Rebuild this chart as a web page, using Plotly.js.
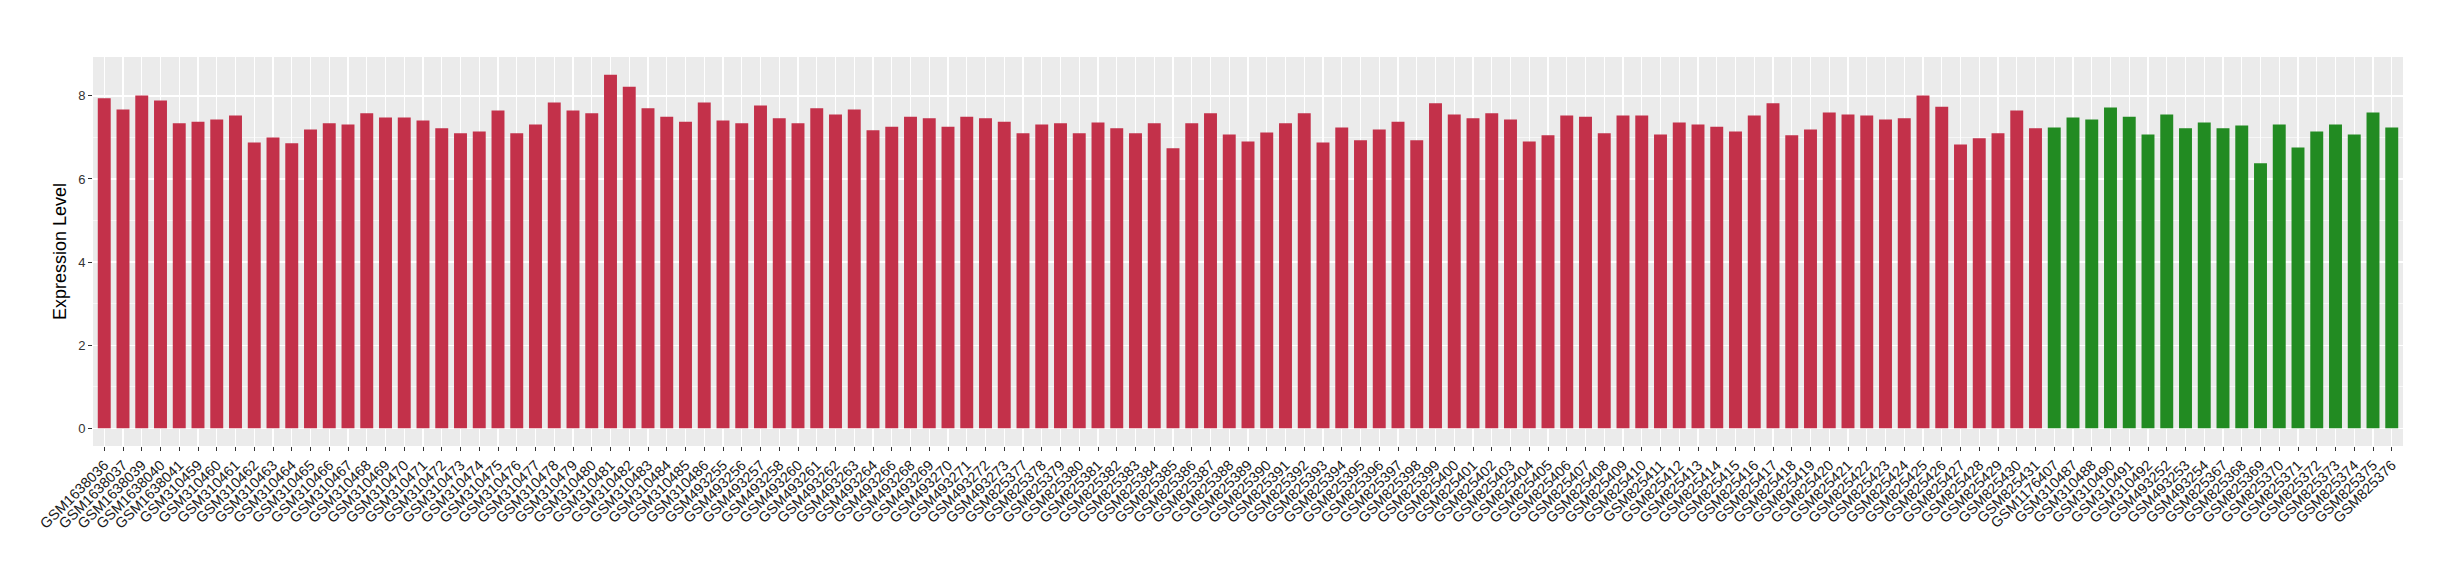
<!DOCTYPE html>
<html>
<head>
<meta charset="utf-8">
<script src="https://cdn.plot.ly/plotly-3.0.1.min.js"></script>
<style>html,body{margin:0;padding:0;background:#fff}#chart{width:2460px;height:580px}</style>
</head>
<body>
<div id="chart"></div>
<script>
// Group 1 (red) samples
var samplesRed = [
  "GSM1638036","GSM1638037","GSM1638039","GSM1638040","GSM1638041",
  "GSM310459","GSM310460","GSM310461","GSM310462","GSM310463","GSM310464","GSM310465",
  "GSM310466","GSM310467","GSM310468","GSM310469","GSM310470","GSM310471","GSM310472",
  "GSM310473","GSM310474","GSM310475","GSM310476","GSM310477","GSM310478","GSM310479",
  "GSM310480","GSM310481","GSM310482","GSM310483","GSM310484","GSM310485","GSM310486",
  "GSM493255","GSM493256","GSM493257","GSM493258","GSM493260","GSM493261","GSM493262",
  "GSM493263","GSM493264","GSM493266","GSM493268","GSM493269","GSM493270","GSM493271",
  "GSM493272","GSM493273",
  "GSM825377","GSM825378","GSM825379","GSM825380","GSM825381","GSM825382","GSM825383",
  "GSM825384","GSM825385","GSM825386","GSM825387","GSM825388","GSM825389","GSM825390",
  "GSM825391","GSM825392","GSM825393","GSM825394","GSM825395","GSM825396","GSM825397",
  "GSM825398","GSM825399","GSM825400","GSM825401","GSM825402","GSM825403","GSM825404",
  "GSM825405","GSM825406","GSM825407","GSM825408","GSM825409","GSM825410","GSM825411",
  "GSM825412","GSM825413","GSM825414","GSM825415","GSM825416","GSM825417","GSM825418",
  "GSM825419","GSM825420","GSM825421","GSM825422","GSM825423","GSM825424","GSM825425",
  "GSM825426","GSM825427","GSM825428","GSM825429","GSM825430","GSM825431"
];
var valuesRed = [
  7.94,7.67,8.01,7.89,7.34,
  7.38,7.43,7.53,6.88,7.00,6.86,7.19,
  7.34,7.31,7.58,7.48,7.48,7.41,7.22,
  7.10,7.14,7.65,7.10,7.31,7.84,7.65,
  7.58,8.51,8.22,7.70,7.50,7.38,7.84,
  7.41,7.34,7.77,7.46,7.34,7.70,7.55,
  7.67,7.17,7.26,7.50,7.46,7.26,7.50,
  7.46,7.38,
  7.10,7.31,7.34,7.10,7.36,7.22,7.10,
  7.34,6.74,7.34,7.58,7.07,6.90,7.12,
  7.34,7.58,6.88,7.24,6.93,7.19,7.38,
  6.93,7.82,7.55,7.46,7.58,7.43,6.90,
  7.05,7.53,7.50,7.10,7.53,7.53,7.07,
  7.36,7.31,7.26,7.14,7.53,7.82,7.05,
  7.19,7.60,7.55,7.53,7.43,7.46,8.01,
  7.74,6.83,6.98,7.10,7.65,7.22
];
// Group 2 (green) samples
var samplesGreen = [
  "GSM1176407","GSM310487","GSM310488","GSM310490","GSM310491","GSM310492",
  "GSM493252","GSM493253","GSM493254",
  "GSM825367","GSM825368","GSM825369","GSM825370","GSM825371","GSM825372",
  "GSM825373","GSM825374","GSM825375","GSM825376"
];
var valuesGreen = [
  7.24,7.48,7.43,7.72,7.50,7.07,
  7.55,7.22,7.36,
  7.22,7.29,6.38,7.31,6.76,7.14,
  7.31,7.07,7.60,7.24
];
var yTicks = [0,2,4,6,8];

var allSamples = samplesRed.concat(samplesGreen);
var font = "Liberation Sans, Arial, Helvetica, sans-serif";

var traces = [
  {type:"bar", x:samplesRed, y:valuesRed, marker:{color:"#C3314A"}, showlegend:false, hoverinfo:"x+y"},
  {type:"bar", x:samplesGreen, y:valuesGreen, marker:{color:"#228B22"}, showlegend:false, hoverinfo:"x+y"}
];

var layout = {
  width:2460, height:580,
  margin:{l:93, r:57, t:57, b:134, pad:0},
  paper_bgcolor:"#FFFFFF",
  plot_bgcolor:"#EBEBEB",
  barmode:"overlay",
  bargap:0.31,
  font:{family:font, color:"#000"},
  xaxis:{
    type:"category",
    categoryorder:"array", categoryarray:allSamples,
    tickmode:"array", tickvals:allSamples, ticktext:allSamples,
    range:[-0.6, allSamples.length - 0.4],
    tickangle:-45,
    tickfont:{size:14.5, color:"#1A1A1A", family:font},
    ticks:"outside", ticklen:4, tickwidth:1, tickcolor:"#333333",
    showgrid:true, gridcolor:"#FFFFFF", gridwidth:1.1,
    zeroline:false, showline:false, automargin:false
  },
  yaxis:{
    range:[-0.4255, 8.9355],
    tickmode:"array", tickvals:yTicks, ticktext:yTicks.map(String),
    tickfont:{size:13, color:"#333333", family:font},
    ticks:"outside", ticklen:4, tickwidth:1, tickcolor:"#333333",
    showgrid:true, gridcolor:"#FFFFFF", gridwidth:1.3,
    minor:{dtick:1, tick0:0, showgrid:true, gridcolor:"#FFFFFF", gridwidth:0.6, ticks:""},
    zeroline:false, showline:false, automargin:false,
    title:{text:"Expression Level", font:{size:18, family:font, color:"#000"}, standoff:6}
  }
};
Plotly.newPlot("chart", traces, layout, {displayModeBar:false, staticPlot:true});
</script>
</body>
</html>
